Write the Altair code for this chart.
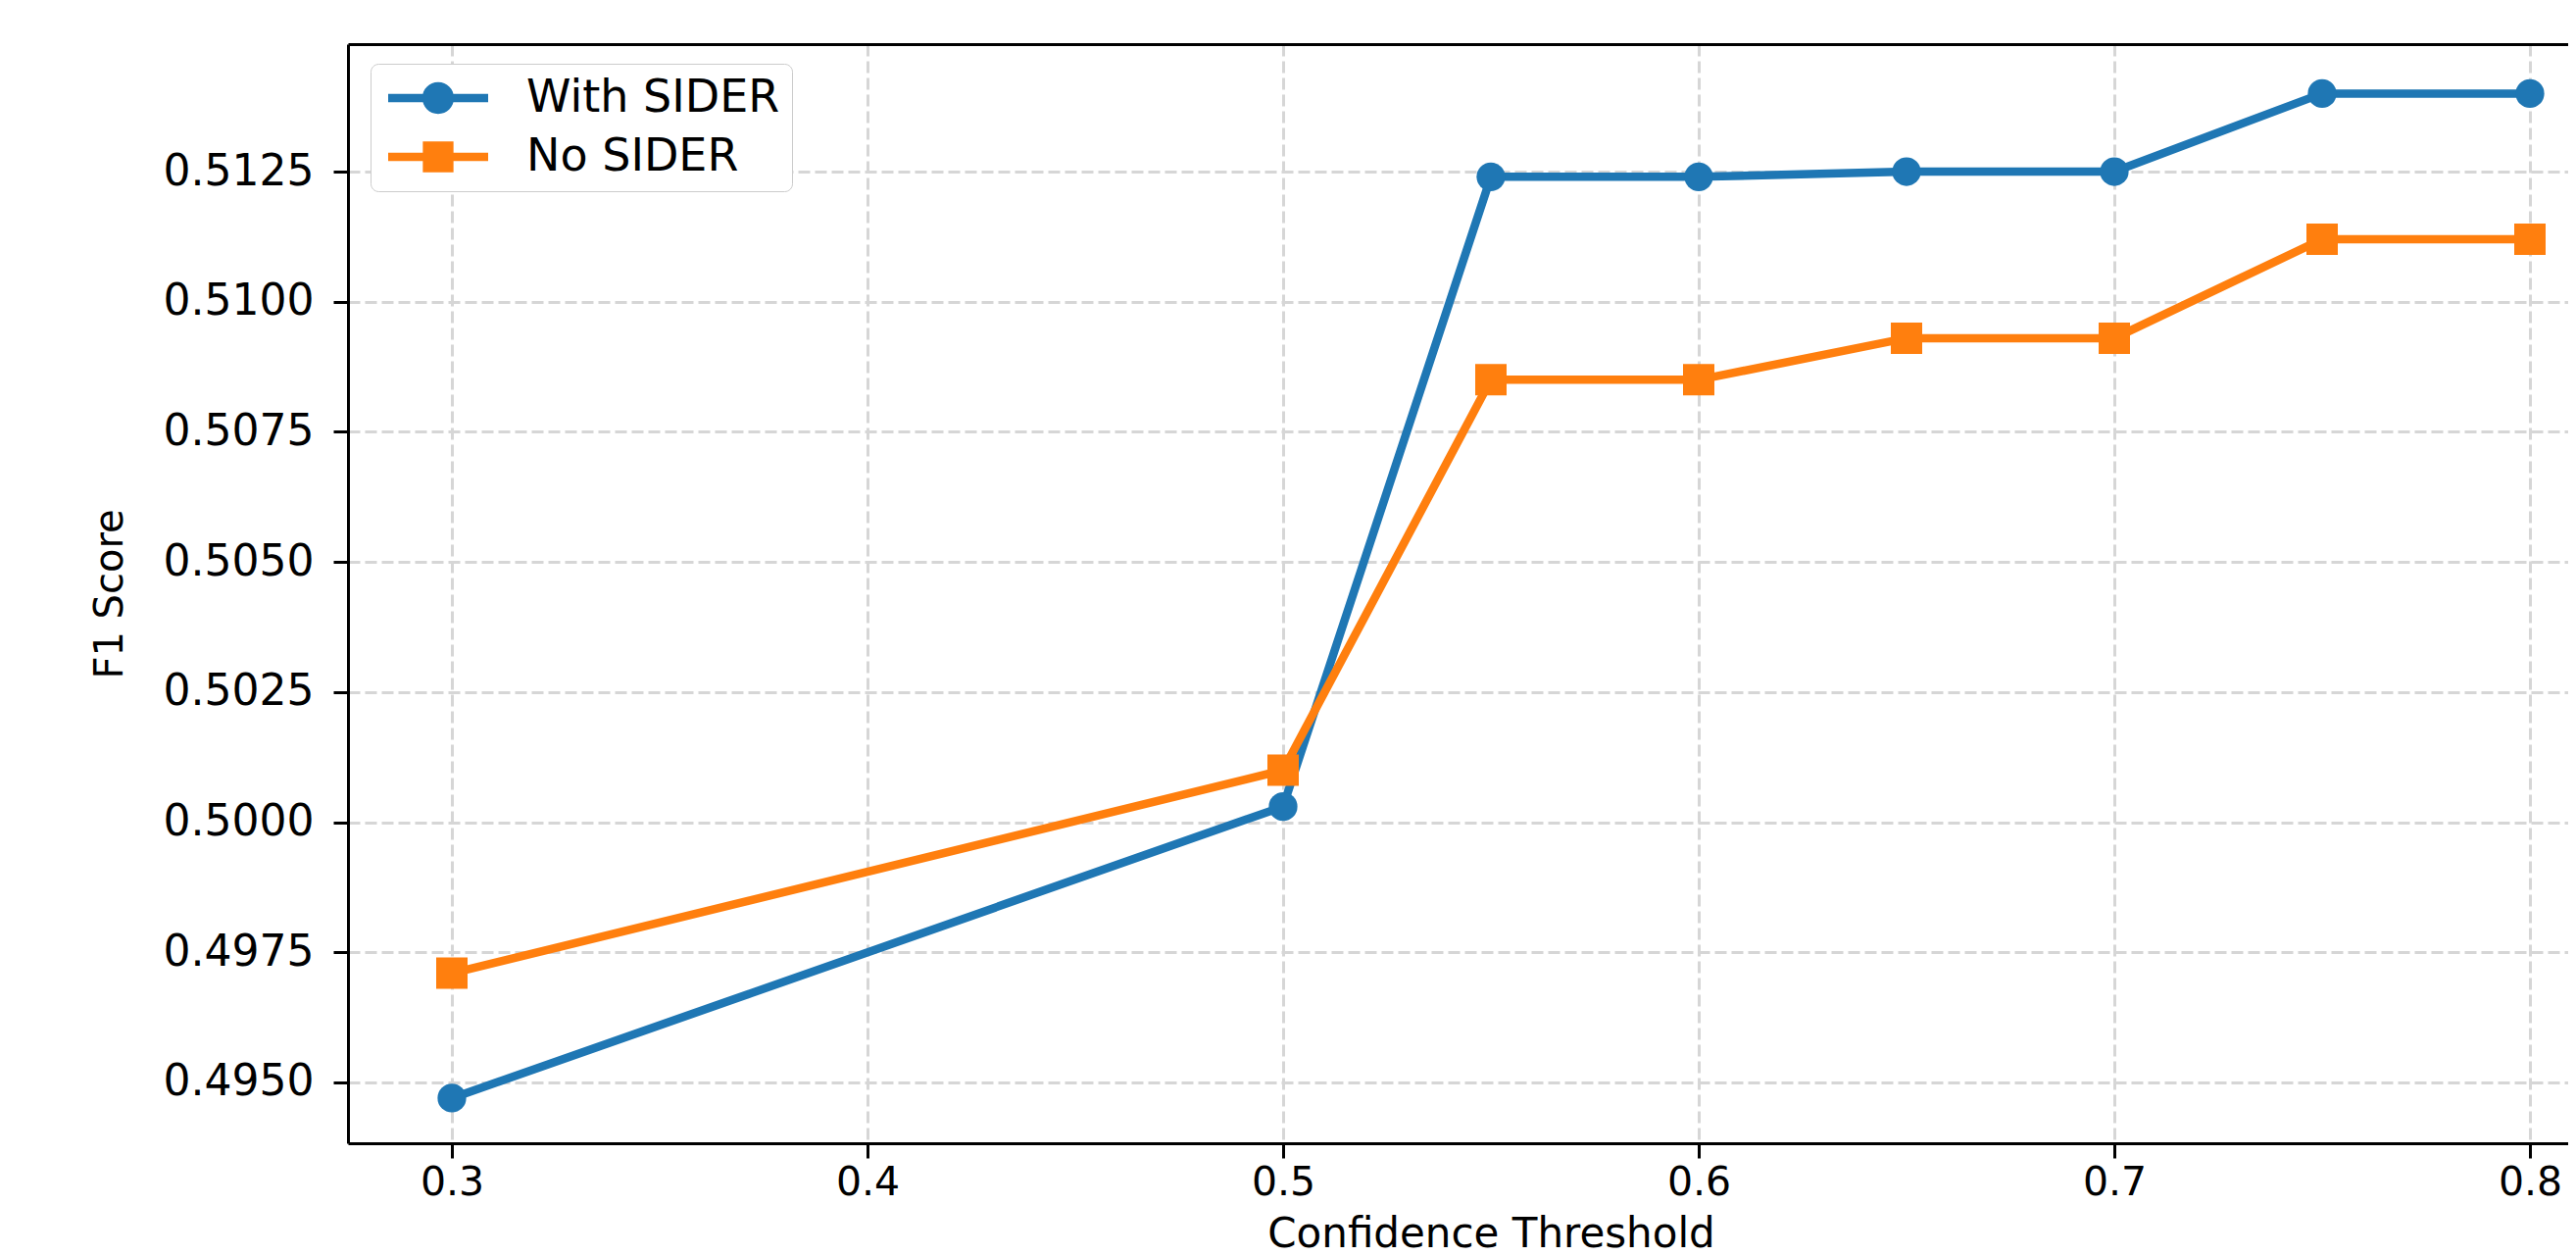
import altair as alt
import pandas as pd

# ---- data ----
thresholds = [0.3, 0.5, 0.55, 0.6, 0.65, 0.7, 0.75, 0.8]
with_sider = [0.4947, 0.5003, 0.5124, 0.5124, 0.5125, 0.5125, 0.5140, 0.5140]
no_sider = [0.4971, 0.5010, 0.5085, 0.5085, 0.5093, 0.5093, 0.5112, 0.5112]
series_names = ["With SIDER", "No SIDER"]
series_colors = ["#1f77b4", "#ff7f0e"]
x_ticks = [0.3, 0.4, 0.5, 0.6, 0.7, 0.8]
y_ticks = [0.4950, 0.4975, 0.5000, 0.5025, 0.5050, 0.5075, 0.5100, 0.5125]

rows = []
for t, a, b in zip(thresholds, with_sider, no_sider):
    rows.append({"threshold": t, "f1": a, "series": series_names[0]})
    rows.append({"threshold": t, "f1": b, "series": series_names[1]})
df = pd.DataFrame(rows)

# ---- layout ----
W, H = 2265, 1121
PX_PER_X = 4240.0
x_min = 0.275
x_max = x_min + W / PX_PER_X
y_min, y_max = 0.493832, 0.514949

xs = alt.Scale(domain=[x_min, x_max], nice=False, zero=False)
ys = alt.Scale(domain=[y_min, y_max], nice=False, zero=False)

FONT = "DejaVu Sans"

# legend symbols: line with marker (custom paths, unit = 17px)
legend_paths = [
    "M-1,-0.25H5V0.25H-1Z M1.05,0A0.95,0.95 0 1,1 2.95,0A0.95,0.95 0 1,1 1.05,0Z",
    "M-1,-0.25H5V0.25H-1Z M1.08,-0.92H2.92V0.92H1.08Z",
]

color_scale = alt.Scale(domain=series_names, range=series_colors)

y_axis = alt.Axis(values=y_ticks, format=".4f", title="F1 Score",
                  labelPadding=20, titleX=-243, titleY=H / 2, titleFontSize=40,
                  titleAngle=270, titleBaseline="middle", titleAlign="center")

base = alt.Chart(df)

lines = base.mark_line(strokeWidth=8.5).encode(
    x=alt.X("threshold:Q", scale=xs,
            axis=alt.Axis(values=x_ticks, format=".1f", title="Confidence Threshold",
                          labelPadding=5, labelFontSize=41,
                          titleBaseline="alphabetic", titleY=105,
                          titleX=1166, titleAlign="center", titleFontSize=42)),
    y=alt.Y("f1:Q", scale=ys, axis=y_axis),
    color=alt.Color("series:N", scale=color_scale, legend=None),
)

points = base.mark_point(filled=True, opacity=1, strokeWidth=0).encode(
    x=alt.X("threshold:Q", scale=xs,
            axis=alt.Axis(orient="top", labels=False, ticks=False, grid=False,
                          domain=True, title=None)),
    y=alt.Y("f1:Q", scale=ys, axis=y_axis),
    color=alt.Color("series:N", scale=color_scale, legend=None),
    shape=alt.Shape("series:N", scale=alt.Scale(domain=series_names, range=["circle", "square"]), legend=None),
    size=alt.Size("series:N", scale=alt.Scale(domain=series_names, range=[855, 1024]), legend=None),
)

leg = alt.Legend(title=None, orient="none", legendX=23, legendY=20,
                 labelFont=FONT, labelFontSize=46, labelColor="black", labelLimit=600,
                 symbolSize=1156, symbolStrokeWidth=0, labelOffset=101,
                 padding=12, rowPadding=14, strokeColor="#cccccc",
                 fillColor="white", cornerRadius=8)

legend_layer = base.transform_filter("datum.f1 > 1").mark_point(
    filled=True, opacity=1, strokeWidth=0, size=1156
).encode(
    color=alt.Color("series:N", scale=color_scale, legend=leg),
    shape=alt.Shape("series:N", scale=alt.Scale(domain=series_names, range=legend_paths), legend=leg),
)

chart = alt.layer(lines, points, legend_layer).resolve_scale(
    color="independent", shape="independent", size="independent"
).resolve_axis(x="independent").properties(
    width=W, height=H,
    padding={"left": 347, "top": 37, "right": 0, "bottom": 115},
    autosize=alt.AutoSizeParams(type="none"),
).configure_view(stroke="transparent").configure_axis(
    domainColor="black", domainWidth=3, tickColor="black", tickWidth=3, tickSize=15,
    labelFont=FONT, labelFontSize=44, labelColor="black",
    titleFont=FONT, titleColor="black", titleFontWeight="normal",
    gridColor="#d6d6d6", gridWidth=3, gridDash=[12, 5],
)

chart.save("out.html", embed_options={"renderer": "svg", "actions": False})
